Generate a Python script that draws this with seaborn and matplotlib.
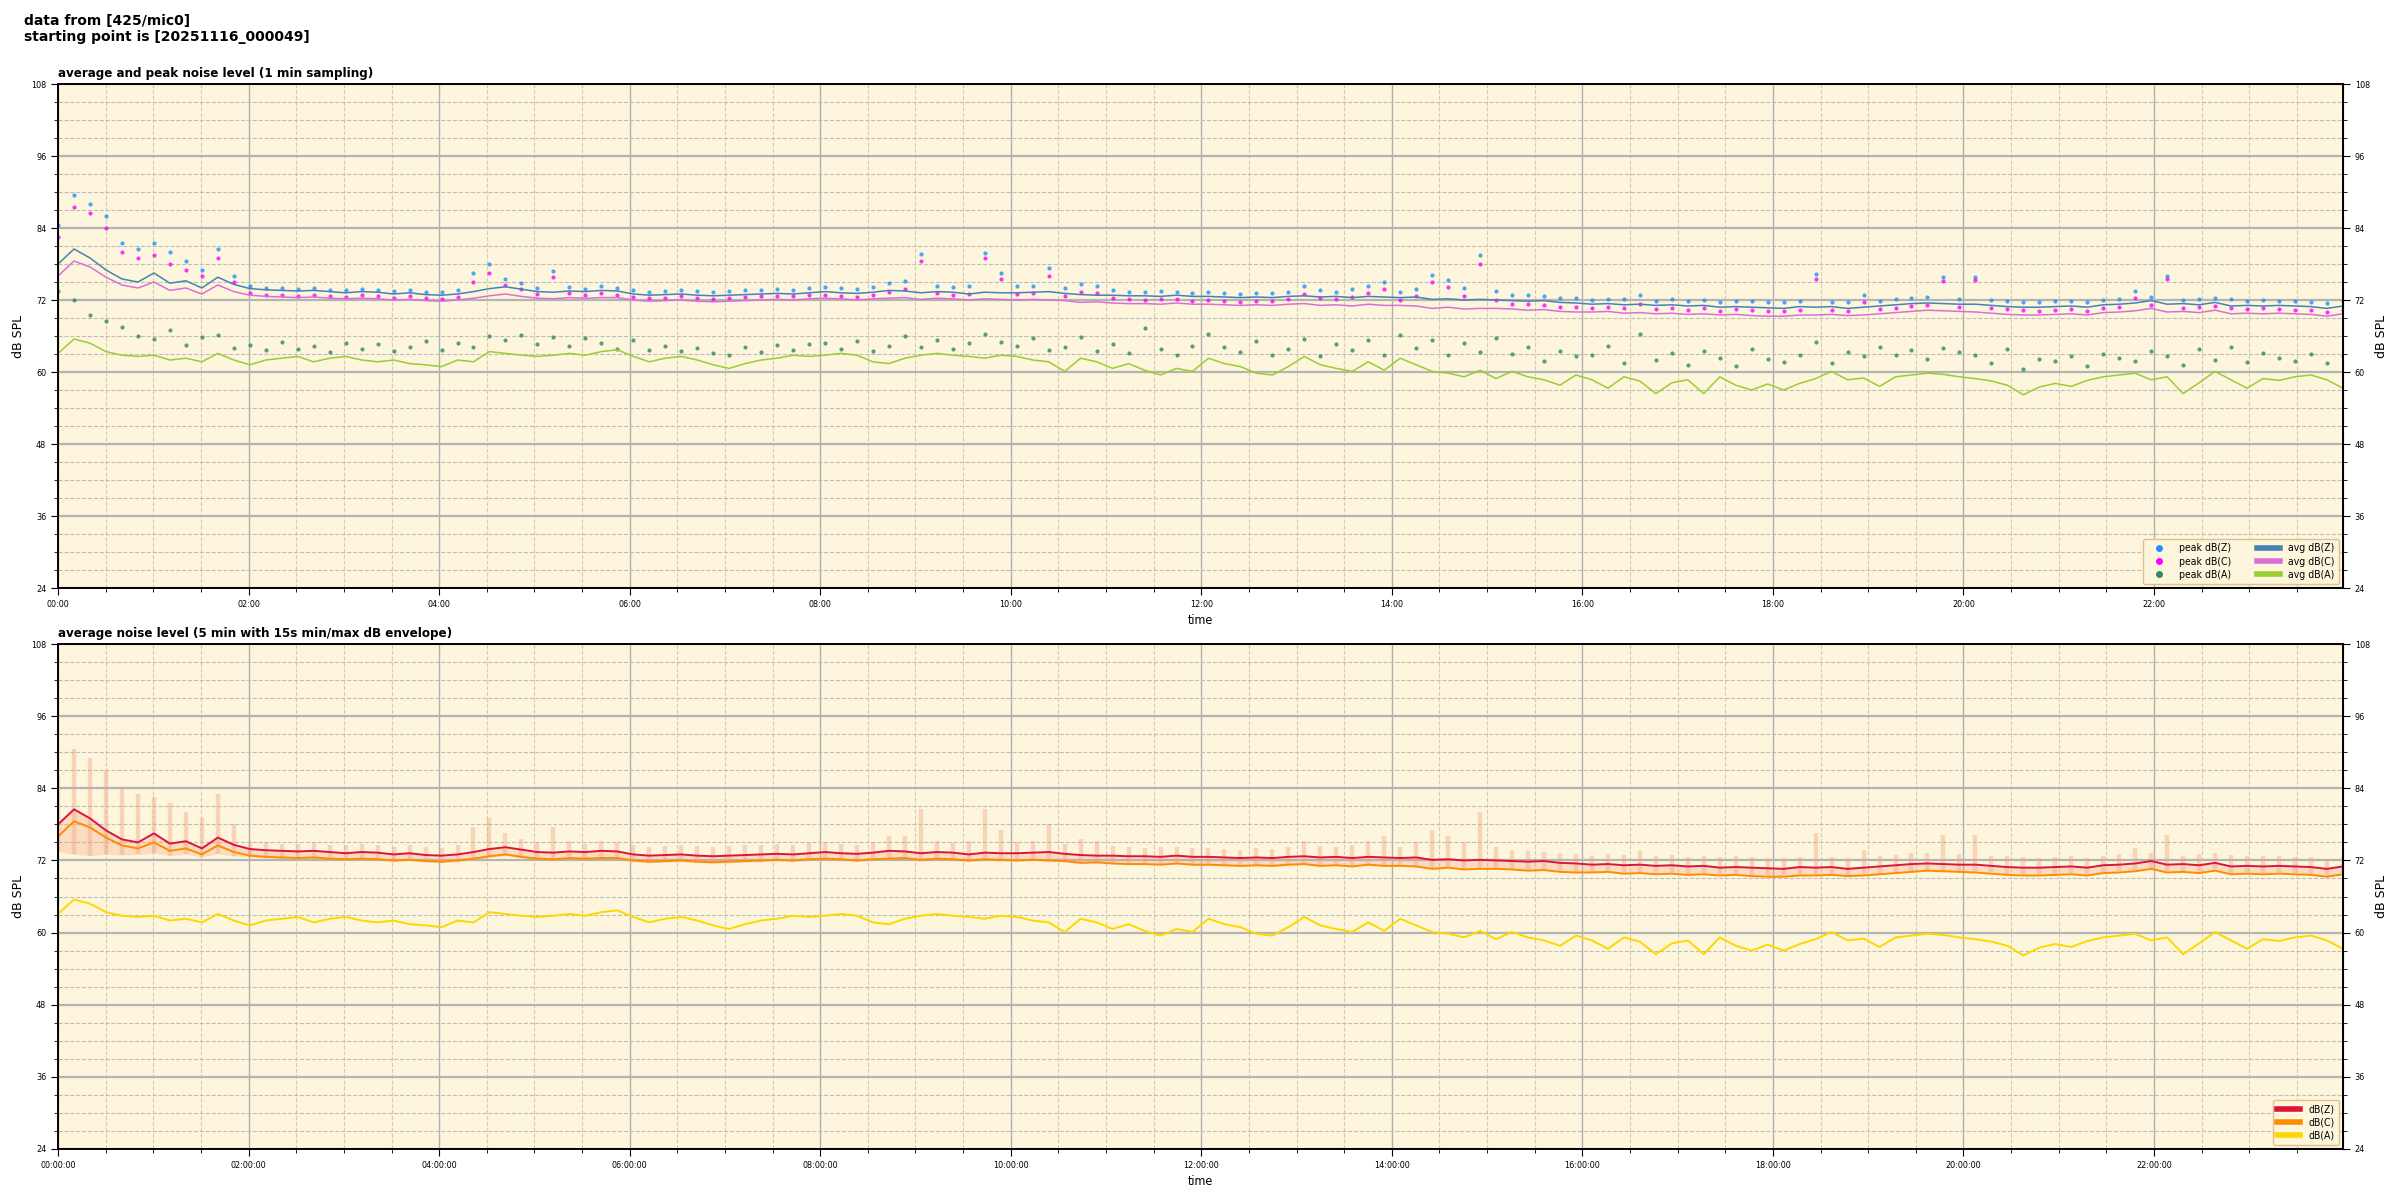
import os

import matplotlib
matplotlib.use("Agg")
import matplotlib.pyplot as plt
import matplotlib.dates as mdates
from matplotlib import font_manager
from matplotlib.lines import Line2D
from matplotlib.ticker import MultipleLocator
import pandas as pd
import seaborn as sns

# readings every ~10 min, 00:00 -> 23:59 (one row = one hour)
avg_z = [78.0, 80.5, 79.0, 77.0, 75.5, 75.0,
         76.5, 74.8, 75.2, 74.0, 75.8, 74.6,
         73.9, 73.7, 73.6, 73.5, 73.6, 73.4,
         73.2, 73.4, 73.3, 73.0, 73.2, 72.9,
         72.8, 73.0, 73.4, 73.9, 74.2, 73.8,
         73.4, 73.3, 73.5, 73.4, 73.6, 73.5,
         73.0, 72.8, 72.9, 73.0, 72.8, 72.7,
         72.8, 72.9, 73.0, 73.1, 73.0, 73.2,
         73.4, 73.2, 73.1, 73.3, 73.6, 73.5,
         73.2, 73.4, 73.3, 73.0, 73.3, 73.2,
         73.2, 73.3, 73.4, 73.1, 72.9, 72.8,
         72.8, 72.7, 72.7, 72.6, 72.8, 72.6,
         72.6, 72.5, 72.4, 72.5, 72.4, 72.6,
         72.7, 72.5, 72.6, 72.4, 72.6, 72.5,
         72.4, 72.5, 72.1, 72.2, 72.0, 72.1,
         72.0, 71.9, 71.8, 71.9, 71.6, 71.5,
         71.3, 71.4, 71.2, 71.3, 71.1, 71.2,
         71.0, 71.1, 70.8, 70.9, 70.8, 70.7,
         70.6, 70.9, 70.8, 70.9, 70.6, 70.8,
         71.0, 71.2, 71.4, 71.5, 71.4, 71.3,
         71.3, 71.1, 70.9, 70.8, 70.8, 70.9,
         71.0, 70.8, 71.2, 71.3, 71.5, 71.9,
         71.3, 71.4, 71.2, 71.6, 71.0, 71.1,
         71.0, 71.1, 71.0, 70.9, 70.6, 71.0]

avg_c = [76.0, 78.5, 77.5, 75.8, 74.5, 74.0,
         75.0, 73.6, 74.0, 73.0, 74.5, 73.4,
         72.8, 72.6, 72.5, 72.4, 72.5, 72.3,
         72.2, 72.3, 72.2, 72.0, 72.1, 71.9,
         71.8, 72.0, 72.3, 72.7, 73.0, 72.6,
         72.3, 72.2, 72.4, 72.3, 72.4, 72.4,
         72.0, 71.8, 71.9, 72.0, 71.8, 71.7,
         71.8, 71.9, 72.0, 72.1, 72.0, 72.2,
         72.3, 72.2, 72.0, 72.2, 72.3, 72.4,
         72.1, 72.3, 72.2, 72.0, 72.2, 72.1,
         72.0, 72.1, 72.0, 71.9, 71.6, 71.7,
         71.5, 71.4, 71.4, 71.3, 71.5, 71.3,
         71.3, 71.2, 71.1, 71.2, 71.1, 71.3,
         71.4, 71.1, 71.2, 71.0, 71.3, 71.1,
         71.1, 71.0, 70.6, 70.8, 70.5, 70.6,
         70.6, 70.5, 70.3, 70.4, 70.1, 70.0,
         70.0, 70.1, 69.8, 69.9, 69.7, 69.8,
         69.6, 69.7, 69.5, 69.6, 69.4, 69.3,
         69.3, 69.5, 69.5, 69.6, 69.4, 69.5,
         69.7, 69.9, 70.1, 70.3, 70.2, 70.1,
         70.0, 69.8, 69.6, 69.5, 69.5, 69.6,
         69.7, 69.5, 69.9, 70.0, 70.2, 70.6,
         70.0, 70.1, 69.9, 70.3, 69.7, 69.8,
         69.7, 69.8, 69.7, 69.6, 69.3, 69.7]

avg_a = [63.1, 65.5, 64.8, 63.4, 62.8, 62.6,
         62.8, 62.0, 62.3, 61.7, 63.1, 62.0,
         61.2, 62.0, 62.3, 62.6, 61.7, 62.3,
         62.6, 62.0, 61.7, 62.0, 61.4, 61.2,
         60.9, 62.0, 61.7, 63.4, 63.1, 62.8,
         62.6, 62.8, 63.1, 62.8, 63.4, 63.7,
         62.6, 61.7, 62.3, 62.6, 62.0, 61.2,
         60.6, 61.4, 62.0, 62.3, 62.8, 62.6,
         62.8, 63.1, 62.8, 61.7, 61.4, 62.3,
         62.8, 63.1, 62.8, 62.6, 62.3, 62.8,
         62.6, 62.0, 61.7, 60.1, 62.3, 61.7,
         60.6, 61.4, 60.3, 59.5, 60.6, 60.1,
         62.3, 61.4, 60.9, 59.8, 59.5, 60.9,
         62.6, 61.2, 60.6, 60.1, 61.7, 60.3,
         62.3, 61.2, 60.1, 59.8, 59.2, 60.3,
         58.9, 60.1, 59.2, 58.7, 57.8, 59.5,
         58.7, 57.3, 59.2, 58.5, 56.4, 58.2,
         58.7, 56.4, 59.2, 57.8, 57.0, 58.0,
         57.0, 58.1, 58.9, 60.1, 58.7, 59.0,
         57.6, 59.2, 59.5, 59.8, 59.6, 59.2,
         58.9, 58.5, 57.8, 56.2, 57.5, 58.1,
         57.6, 58.6, 59.2, 59.5, 59.8, 58.7,
         59.2, 56.4, 58.2, 60.1, 58.7, 57.3,
         58.9, 58.6, 59.2, 59.5, 58.7, 57.3]

peak_z = [84.5, 89.5, 88.0, 86.0, 81.5, 80.5,
          81.5, 80.0, 78.5, 77.0, 80.5, 76.0,
          74.3, 74.0, 74.0, 73.8, 74.0, 73.7,
          73.6, 73.9, 73.7, 73.5, 73.7, 73.4,
          73.3, 73.6, 76.5, 78.0, 75.5, 74.8,
          74.0, 76.8, 74.2, 73.9, 74.3, 74.0,
          73.6, 73.4, 73.5, 73.7, 73.5, 73.3,
          73.5, 73.6, 73.7, 73.8, 73.7, 74.0,
          74.1, 74.0, 73.8, 74.2, 74.8, 75.2,
          79.7, 74.4, 74.1, 74.3, 79.8, 76.5,
          74.3, 74.4, 77.3, 74.0, 74.6, 74.4,
          73.6, 73.4, 73.3, 73.5, 73.4, 73.2,
          73.3, 73.1, 73.0, 73.2, 73.1, 73.4,
          74.3, 73.6, 73.4, 73.8, 74.4, 75.0,
          73.3, 73.9, 76.2, 75.3, 74.0, 79.5,
          73.5, 72.9, 72.8, 72.6, 72.4, 72.3,
          72.0, 72.2, 72.1, 72.8, 71.9, 72.1,
          71.8, 72.0, 71.7, 71.9, 71.8, 71.6,
          71.6, 71.8, 76.3, 71.7, 71.6, 72.9,
          71.9, 72.1, 72.4, 72.5, 75.9, 72.2,
          75.9, 72.0, 71.9, 71.7, 71.6, 71.8,
          71.9, 71.6, 72.0, 72.2, 73.5, 72.5,
          76.0, 72.0, 72.2, 72.4, 72.1, 71.9,
          72.0, 71.9, 71.8, 71.7, 71.5, 71.8]

peak_c = [82.5, 87.5, 86.5, 84.0, 80.0, 79.0,
          79.5, 78.0, 77.0, 76.0, 79.0, 75.0,
          73.2, 72.9, 72.9, 72.7, 72.9, 72.6,
          72.5, 72.8, 72.6, 72.4, 72.6, 72.3,
          72.2, 72.5, 75.0, 76.5, 74.5, 73.8,
          73.0, 75.8, 73.1, 72.8, 73.2, 72.9,
          72.5, 72.3, 72.4, 72.6, 72.4, 72.2,
          72.4, 72.5, 72.6, 72.7, 72.6, 72.9,
          72.8, 72.7, 72.5, 72.9, 73.4, 73.8,
          78.5, 73.1, 72.8, 73.0, 79.0, 75.5,
          73.0, 73.1, 76.0, 72.7, 73.3, 73.1,
          72.3, 72.1, 72.0, 72.2, 72.1, 71.9,
          72.0, 71.8, 71.7, 71.9, 71.8, 72.1,
          73.0, 72.3, 72.1, 72.5, 73.1, 73.8,
          72.0, 72.6, 75.0, 74.1, 72.7, 78.0,
          72.0, 71.4, 71.3, 71.1, 70.9, 70.8,
          70.6, 70.8, 70.7, 71.3, 70.5, 70.7,
          70.4, 70.6, 70.2, 70.5, 70.3, 70.2,
          70.2, 70.4, 75.5, 70.3, 70.2, 71.6,
          70.5, 70.7, 71.0, 71.1, 75.2, 70.9,
          75.3, 70.6, 70.5, 70.3, 70.2, 70.4,
          70.5, 70.2, 70.6, 70.8, 72.3, 71.1,
          75.5, 70.6, 70.8, 71.0, 70.7, 70.5,
          70.6, 70.5, 70.4, 70.3, 70.0, 70.4]

peak_a = [73.5, 72.0, 69.5, 68.5, 67.5, 66.0,
          65.5, 67.0, 64.5, 65.8, 66.2, 64.0,
          64.5, 63.6, 65.0, 63.8, 64.3, 63.4,
          64.8, 63.9, 64.6, 63.5, 64.1, 65.2,
          63.6, 64.9, 64.2, 66.0, 65.4, 66.2,
          64.7, 65.9, 64.4, 65.6, 64.9, 63.8,
          65.3, 63.7, 64.4, 63.5, 64.0, 63.2,
          62.9, 64.1, 63.3, 64.5, 63.7, 64.6,
          64.8, 63.9, 65.2, 63.5, 64.4, 66.0,
          64.2, 65.3, 63.8, 64.9, 66.4, 65.0,
          64.3, 65.6, 63.7, 64.1, 65.8, 63.5,
          64.7, 63.2, 67.3, 63.9, 62.8, 64.4,
          66.4, 64.1, 63.3, 65.2, 62.9, 63.8,
          65.5, 62.7, 64.6, 63.6, 65.4, 62.9,
          66.2, 64.0, 65.3, 62.8, 64.9, 63.4,
          65.7, 63.0, 64.2, 61.8, 63.5, 62.6,
          62.8, 64.3, 61.5, 66.3, 62.0, 63.1,
          61.2, 63.5, 62.4, 61.0, 63.8, 62.1,
          61.7, 62.9, 65.0, 61.5, 63.3, 62.6,
          64.2, 62.8, 63.7, 62.2, 64.0, 63.4,
          62.9, 61.5, 63.8, 60.5, 62.2, 61.8,
          62.6, 61.0, 63.0, 62.3, 61.8, 63.5,
          62.7, 61.2, 63.9, 62.0, 64.1, 61.6,
          63.2, 62.4, 61.9, 63.0, 61.5, 62.7]

# 15 s min/max envelope of dB(Z)
env_hi = [86.0, 90.5, 89.0, 87.0, 84.0, 83.0,
          82.5, 81.5, 80.0, 79.0, 83.0, 78.0,
          75.2, 75.0, 74.8, 74.7, 75.0, 74.6,
          74.5, 74.8, 74.6, 74.3, 74.5, 74.2,
          74.1, 74.5, 77.5, 79.0, 76.5, 75.5,
          75.0, 77.5, 75.2, 74.8, 75.3, 75.0,
          74.5, 74.3, 74.4, 74.6, 74.4, 74.2,
          74.4, 74.5, 74.6, 74.7, 74.6, 74.9,
          75.0, 74.8, 74.6, 75.0, 76.0, 76.0,
          80.5, 75.2, 74.9, 75.2, 80.5, 77.0,
          75.0, 75.2, 78.0, 74.8, 75.5, 75.2,
          74.4, 74.2, 74.1, 74.3, 74.2, 74.0,
          74.1, 73.9, 73.8, 74.0, 73.9, 74.2,
          75.2, 74.4, 74.2, 74.6, 75.3, 76.0,
          74.2, 75.0, 77.0, 76.0, 75.0, 80.0,
          74.3, 73.7, 73.6, 73.4, 73.2, 73.1,
          72.8, 73.0, 72.9, 73.6, 72.7, 72.9,
          72.6, 72.8, 72.5, 72.7, 72.6, 72.4,
          72.4, 72.6, 76.5, 72.5, 72.4, 73.8,
          72.7, 72.9, 73.2, 73.3, 76.2, 73.0,
          76.2, 72.8, 72.7, 72.5, 72.4, 72.6,
          72.7, 72.4, 72.8, 73.0, 74.0, 73.3,
          76.3, 72.8, 73.0, 73.2, 72.9, 72.7,
          72.8, 72.7, 72.6, 72.5, 72.3, 72.6]

env_lo = [73.5, 73.0, 72.8, 73.0, 72.9, 73.0,
          73.2, 72.8, 73.0, 72.6, 73.1, 72.7,
          72.6, 72.4, 72.3, 72.2, 72.3, 72.1,
          72.0, 72.2, 72.1, 71.8, 72.0, 71.7,
          71.6, 71.8, 72.1, 72.5, 72.8, 72.4,
          72.1, 72.0, 72.2, 72.1, 72.3, 72.2,
          71.8, 71.6, 71.7, 71.8, 71.6, 71.5,
          71.6, 71.7, 71.8, 71.9, 71.8, 72.0,
          72.1, 72.0, 71.8, 72.0, 72.2, 72.2,
          71.9, 72.1, 72.0, 71.8, 72.0, 71.9,
          71.9, 72.0, 71.9, 71.7, 71.5, 71.5,
          71.4, 71.3, 71.3, 71.2, 71.4, 71.2,
          71.2, 71.1, 71.0, 71.1, 71.0, 71.2,
          71.3, 71.1, 71.2, 71.0, 71.2, 71.1,
          71.0, 71.0, 70.7, 70.8, 70.6, 70.7,
          70.6, 70.5, 70.4, 70.5, 70.2, 70.1,
          70.1, 70.2, 70.0, 70.1, 69.9, 70.0,
          69.8, 69.9, 69.7, 69.8, 69.6, 69.5,
          69.5, 69.7, 69.6, 69.8, 69.5, 69.7,
          69.9, 70.1, 70.3, 70.4, 70.3, 70.2,
          70.2, 70.0, 69.8, 69.7, 69.7, 69.8,
          69.9, 69.7, 70.1, 70.2, 70.4, 70.8,
          70.2, 70.3, 70.1, 70.5, 69.9, 70.0,
          69.9, 70.0, 69.9, 69.8, 69.5, 69.9]

t_start = pd.Timestamp("2025-11-16 00:00:00")
t_end = pd.Timestamp("2025-11-16 23:59:00")
times = pd.date_range(t_start, t_end, periods=len(avg_z))

BG = "#fdf6dc"

# the original uses a narrow face for ticks/titles; use DejaVu Sans Condensed if it is there
cond_name = None
for f in font_manager.fontManager.ttflist:
    if "Condensed" in os.path.basename(f.fname) and "DejaVu" in f.fname:
        cond_name = f.name
        break
if cond_name is None:
    for f in font_manager.fontManager.ttflist:
        if "Narrow" in os.path.basename(f.fname):
            cond_name = f.name
            break

if cond_name is not None:
    plt.rcParams["font.family"] = [cond_name, "DejaVu Sans"]
    plt.rcParams["font.stretch"] = "condensed"
else:
    plt.rcParams["font.family"] = ["DejaVu Sans"]

fig = plt.figure(figsize=(24, 12), dpi=100)
ax1 = fig.add_axes([0.0242, 0.51, 0.952, 0.42])
ax2 = fig.add_axes([0.0242, 0.0425, 0.952, 0.4208])

fig.text(0.01, 0.988, "data from [425/mic0]\nstarting point is [20251116_000049]",
         ha="left", va="top", fontsize=10, fontweight="bold",
         family="DejaVu Sans", fontstretch="normal", linespacing=1.1)

#top: peaks as dots, 1 min averages as lines
sns.scatterplot(x=times, y=peak_z, ax=ax1, color="#1e90ff", s=9, linewidth=0, alpha=0.8, legend=False)
sns.scatterplot(x=times, y=peak_c, ax=ax1, color="#ff00ff", s=9, linewidth=0, alpha=0.8, legend=False)
sns.scatterplot(x=times, y=peak_a, ax=ax1, color="#2e8b57", s=9, linewidth=0, alpha=0.8, legend=False)
sns.lineplot(x=times, y=avg_z, ax=ax1, color="#4682b4", lw=1.1, legend=False)
sns.lineplot(x=times, y=avg_c, ax=ax1, color="#da70d6", lw=1.1, legend=False)
sns.lineplot(x=times, y=avg_a, ax=ax1, color="#9acd32", lw=1.1, legend=False)

# bottom: 5 min average with the 15s envelope behind (haze below the line, spikes up to the max)
ax2.fill_between(times, env_lo, avg_z, color="#f5a080", alpha=0.3, lw=0)
ax2.vlines(times, env_lo, env_hi, color="#f5a080", alpha=0.4, lw=3.2)
sns.lineplot(x=times, y=avg_a, ax=ax2, color="#ffd700", lw=1.4, legend=False)
sns.lineplot(x=times, y=avg_c, ax=ax2, color="#ff8c00", lw=1.4, legend=False)
sns.lineplot(x=times, y=avg_z, ax=ax2, color="#dc143c", lw=1.4, legend=False)

titles = ["average and peak noise level (1 min sampling)",
          "average noise level (5 min with 15s min/max dB envelope)"]
fmts = ["%H:%M", "%H:%M:%S"]

for ax, title, fmt in zip([ax1, ax2], titles, fmts):
    ax.set_facecolor(BG)
    ax.set_xlim(t_start, t_end)
    ax.set_ylim(24, 108)
    ax.yaxis.set_major_locator(MultipleLocator(12))
    ax.yaxis.set_minor_locator(MultipleLocator(3))
    ax.xaxis.set_major_locator(mdates.HourLocator(byhour=range(0, 24, 2)))
    ax.xaxis.set_minor_locator(mdates.MinuteLocator(byminute=[0, 30]))
    ax.xaxis.set_major_formatter(mdates.DateFormatter(fmt))

    ax.grid(which="major", axis="y", color="#b4b4b4", lw=1.6, ls="-")
    ax.grid(which="major", axis="x", color="#b0b0b0", lw=1.0, ls="-")
    ax.grid(which="minor", axis="y", color="#bdbdbd", lw=0.8, ls="--")
    ax.grid(which="minor", axis="x", color="#d6cdb0", lw=0.8, ls="--")
    ax.set_axisbelow(True)

    ax.tick_params(which="major", length=5, width=0.8, labelsize=6.5, direction="out")
    ax.tick_params(which="minor", length=3, width=0.6, direction="out")
    for s in ax.spines.values():
        s.set_linewidth(1.4)

    ax.set_title(title, loc="left", fontsize=9.5, fontweight="bold", pad=5)
    ax.set_xlabel("time", fontsize=9)
    ax.set_ylabel("dB SPL", fontsize=9, family="DejaVu Sans", fontstretch="normal")

    axr = ax.secondary_yaxis("right")
    axr.yaxis.set_major_locator(MultipleLocator(12))
    axr.yaxis.set_minor_locator(MultipleLocator(3))
    axr.tick_params(which="major", length=5, width=0.8, labelsize=6.5)
    axr.tick_params(which="minor", length=3, width=0.6)
    axr.set_ylabel("dB SPL", fontsize=9, family="DejaVu Sans", fontstretch="normal")

top_handles = [
    Line2D([], [], ls="", marker="o", markersize=4, color="#1e90ff", label="peak dB(Z)"),
    Line2D([], [], ls="", marker="o", markersize=4, color="#ff00ff", label="peak dB(C)"),
    Line2D([], [], ls="", marker="o", markersize=4, color="#2e8b57", label="peak dB(A)"),
    Line2D([], [], lw=4, color="#4682b4", label="avg dB(Z)"),
    Line2D([], [], lw=4, color="#da70d6", label="avg dB(C)"),
    Line2D([], [], lw=4, color="#9acd32", label="avg dB(A)"),
]
ax1.legend(handles=top_handles, ncol=2, loc="lower right", fontsize=7.5,
           facecolor=BG, edgecolor="#e0c090", framealpha=1, fancybox=True,
           borderaxespad=0.4, columnspacing=2.5, handlelength=2.2, labelspacing=0.3)

bot_handles = [
    Line2D([], [], lw=4, color="#dc143c", label="dB(Z)"),
    Line2D([], [], lw=4, color="#ff8c00", label="dB(C)"),
    Line2D([], [], lw=4, color="#ffd700", label="dB(A)"),
]
ax2.legend(handles=bot_handles, loc="lower right", fontsize=7.5,
           facecolor=BG, edgecolor="#e0c090", framealpha=1, fancybox=True,
           borderaxespad=0.4, handlelength=2.2, labelspacing=0.3)

fig.savefig("out.png", dpi=100)
